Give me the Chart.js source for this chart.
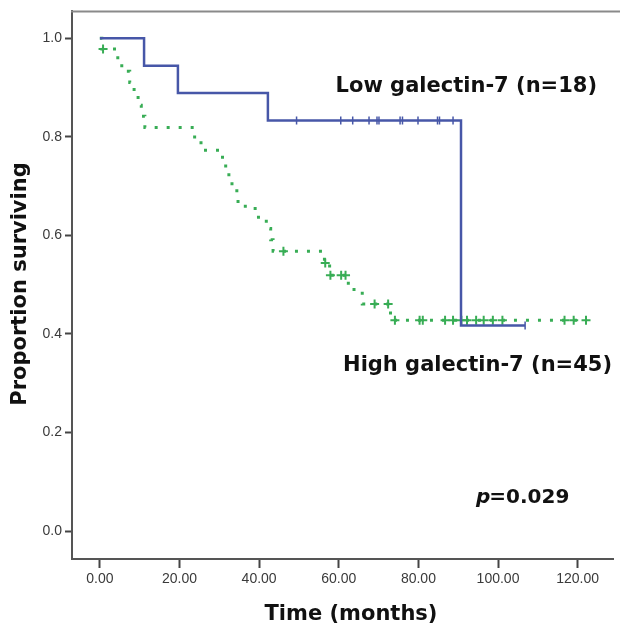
<!DOCTYPE html>
<html>
<head>
<meta charset="utf-8">
<script src="https://cdn.jsdelivr.net/npm/chart.js@4/dist/chart.umd.min.js"></script>
<style>
  html, body { margin: 0; padding: 0; background: #fff; }
  #wrap { width: 620px; height: 628px; }
</style>
</head>
<body>
<div id="wrap"><canvas id="km"></canvas></div>
<script>
// Low galectin-7 (n=18): step curve and censored times
const lowTimes = [0, 11.1, 19.6, 42.2, 90.7, 106.8]
const lowSurv = [1.0, 0.944, 0.889, 0.833, 0.417, 0.417]
const lowCensorTimes = [49.4, 60.5, 63.5, 67.6, 69.6, 70.1, 75.4, 76.0, 79.9, 84.8, 85.3, 88.7, 106.8]
const lowCensorSurv = [0.833, 0.833, 0.833, 0.833, 0.833, 0.833, 0.833, 0.833, 0.833, 0.833, 0.833, 0.833, 0.417]

// High galectin-7 (n=45)
const highTimes = [0, 0.5, 4.5, 5.5, 7.5, 8.6, 9.6, 10.4, 11.3, 23.8, 25.4, 30.8, 31.6, 32.4, 34.4, 34.7,
  39.0, 41.8, 42.9, 43.5, 56.4, 57.7, 62.4, 65.9, 73.0, 122.3]
const highSurv = [1.0, 0.978, 0.955, 0.933, 0.910, 0.887, 0.864, 0.842, 0.819, 0.796, 0.773, 0.750, 0.728, 0.705, 0.682, 0.659,
  0.637, 0.614, 0.591, 0.568, 0.544, 0.519, 0.490, 0.461, 0.428, 0.428]
const highCensorTimes = [0.8, 46.1, 56.6, 57.9, 60.6, 61.7, 69.0, 72.4, 74.1, 80.3, 81.1, 86.7, 88.7, 90.8, 92.2, 94.5,
  96.4, 98.7, 101.1, 116.7, 119.0, 122.1]
const highCensorSurv = [0.978, 0.568, 0.544, 0.519, 0.519, 0.519, 0.461, 0.461, 0.428, 0.428, 0.428, 0.428, 0.428, 0.428, 0.428, 0.428,
  0.428, 0.428, 0.428, 0.428, 0.428, 0.428]

const xTicks = [0, 20, 40, 60, 80, 100, 120]
const yTicks = [0, 0.2, 0.4, 0.6, 0.8, 1.0]

const BLUE = '#4757a8'
const GREEN = '#38ad55'

const pts = (xs, ys) => xs.map((x, i) => ({ x, y: ys[i] }))

const textLayer = {
  id: 'textLayer',
  afterDraw(chart) {
    const { ctx, chartArea: { left, top } } = chart
    ctx.save()
    // top frame line
    ctx.strokeStyle = '#8a8a8a'
    ctx.lineWidth = 2
    ctx.beginPath()
    ctx.moveTo(left - 1, top)
    ctx.lineTo(chart.width, top)
    ctx.stroke()

    ctx.fillStyle = '#111'
    ctx.textBaseline = 'middle'
    ctx.font = 'bold 21px "DejaVu Sans"'
    ctx.textAlign = 'right'
    ctx.fillText('Low galectin-7 (n=18)', 597, 87)
    ctx.fillText('High galectin-7 (n=45)', 612, 366)

    ctx.textAlign = 'left'
    ctx.font = 'italic bold 20px "DejaVu Sans"'
    ctx.fillText('p', 476, 498)
    const pw = ctx.measureText('p').width
    ctx.font = 'bold 20px "DejaVu Sans"'
    ctx.fillText('=0.029', 476 + pw - 1, 498)

    ctx.textAlign = 'center'
    ctx.font = 'bold 21px "DejaVu Sans"'
    ctx.fillText('Time (months)', 351, 615)
    ctx.translate(21, 284)
    ctx.rotate(-Math.PI / 2)
    ctx.fillText('Proportion surviving', 0, 0)
    ctx.restore()
  }
}

new Chart(document.getElementById('km'), {
  type: 'line',
  plugins: [textLayer],
  data: {
    datasets: [
      {
        data: pts(lowTimes, lowSurv),
        borderColor: BLUE,
        borderWidth: 2.5,
        stepped: true,
        pointRadius: 0
      },
      {
        data: pts(lowCensorTimes, lowCensorSurv),
        showLine: false,
        pointStyle: 'line',
        rotation: 90,
        pointRadius: 4,
        pointBorderWidth: 1.5,
        pointBorderColor: BLUE
      },
      {
        data: pts(highTimes, highSurv),
        borderColor: GREEN,
        borderWidth: 3,
        borderDash: [3, 9],
        borderCapStyle: 'butt',
        stepped: true,
        pointRadius: 0
      },
      {
        data: pts(highCensorTimes, highCensorSurv),
        showLine: false,
        pointStyle: 'cross',
        pointRadius: 4.5,
        pointBorderWidth: 2,
        pointBorderColor: GREEN
      }
    ]
  },
  options: {
    responsive: true,
    maintainAspectRatio: false,
    animation: false,
    layout: { padding: { top: 9, right: 6, left: 0, bottom: 0 } },
    plugins: { legend: false, tooltip: false },
    scales: {
      x: {
        type: 'linear',
        min: -7,
        max: 129,
        afterFit: (scale) => { scale.height = 69 },
        afterBuildTicks: (scale) => { scale.ticks = xTicks.map(v => ({ value: v })) },
        border: { display: true, color: '#555', width: 2 },
        grid: { drawOnChartArea: false, drawTicks: true, tickLength: 9, tickWidth: 2, tickColor: '#444' },
        ticks: {
          padding: 3,
          color: '#3a3a3a',
          font: { family: 'Liberation Sans', size: 14 },
          callback: (v) => v.toFixed(2)
        }
      },
      y: {
        min: -0.0566,
        max: 1.0545,
        afterFit: (scale) => { scale.width = 72 },
        afterBuildTicks: (scale) => { scale.ticks = yTicks.map(v => ({ value: v })) },
        border: { display: true, color: '#555', width: 2 },
        grid: { drawOnChartArea: false, drawTicks: true, tickLength: 7, tickWidth: 2, tickColor: '#444' },
        ticks: {
          padding: 3,
          color: '#3a3a3a',
          font: { family: 'Liberation Sans', size: 14 },
          callback: (v) => v.toFixed(1)
        }
      }
    }
  }
})
</script>
</body>
</html>
